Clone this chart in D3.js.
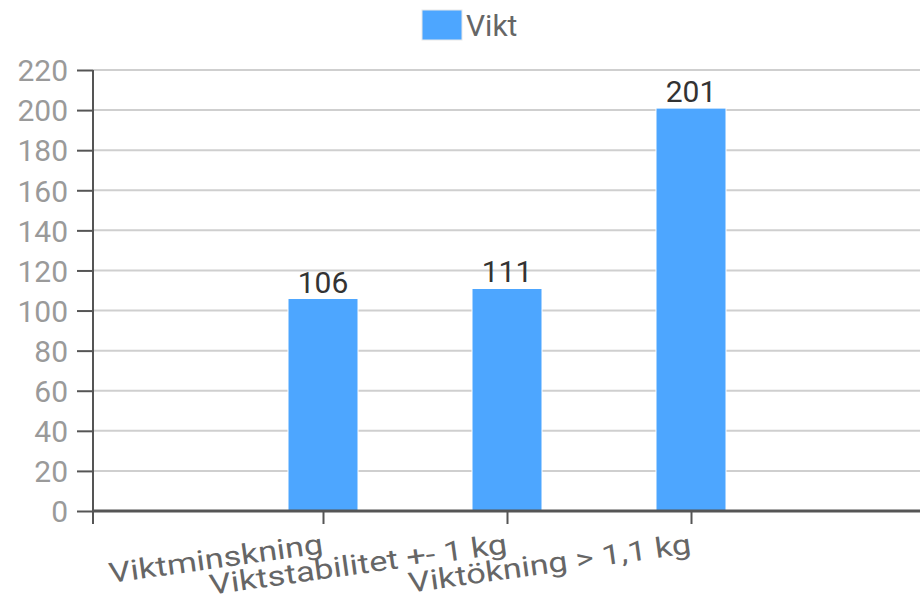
<!DOCTYPE html>
<html>
<head>
<meta charset="utf-8">
<script src="https://cdn.jsdelivr.net/npm/d3@7"></script>
<style>
  html, body { margin: 0; padding: 0; background: #fff; }
  svg { display: block; font-family: Roboto, "Noto Sans", sans-serif; }
</style>
</head>
<body>
<svg id="chart" width="920" height="600"></svg>
<script>
// Weight change groups and counts
const categories = ["Viktminskning", "Viktstabilitet +- 1 kg", "Viktökning > 1,1 kg"];
const values = [106, 111, 201];
const seriesName = "Vikt";
const yTicks = [0, 20, 40, 60, 80, 100, 120, 140, 160, 180, 200, 220];

const svg = d3.select("#chart");
const barColor = "#4da6ff";
const fontSize = 30;

const x = d3.scalePoint().domain(categories).range([93, 921]).padding(1.25);
const y = d3.scaleLinear().domain([0, 220]).range([511, 70]);
const barWidth = 70;

// Horizontal grid lines
svg.append("g")
  .selectAll("line")
  .data(yTicks)
  .join("line")
  .attr("x1", 93).attr("x2", 920)
  .attr("y1", d => y(d)).attr("y2", d => y(d))
  .attr("stroke", "#cfcfcf")
  .attr("stroke-width", 2);

// Bars
svg.append("g")
  .selectAll("rect")
  .data(values)
  .join("rect")
  .attr("x", (d, i) => x(categories[i]) - barWidth / 2)
  .attr("width", barWidth)
  .attr("y", d => y(d))
  .attr("height", d => y(0) - y(d))
  .attr("fill", barColor)
  .attr("stroke", "#fff")
  .attr("stroke-width", 1);

// Value labels above bars
svg.append("g")
  .selectAll("text")
  .data(values)
  .join("text")
  .attr("x", (d, i) => x(categories[i]))
  .attr("y", d => y(d) - 6)
  .attr("text-anchor", "middle")
  .attr("font-size", fontSize)
  .attr("fill", "#333")
  .text(d => d);

// Y axis
const yAxis = svg.append("g")
  .attr("transform", "translate(93,0)")
  .call(d3.axisLeft(y).tickValues(yTicks).tickSize(16).tickSizeOuter(0).tickPadding(9));
yAxis.select(".domain").attr("stroke", "#555").attr("stroke-width", 2)
  .attr("d", `M0,${y(220)}V${y(0) + 13}`);
yAxis.selectAll(".tick line").attr("stroke", "#555").attr("stroke-width", 2);
yAxis.selectAll(".tick text")
  .attr("font-size", fontSize)
  .attr("font-family", "Roboto, sans-serif")
  .attr("fill", "#9a9a9a")
  .attr("dy", "0.36em");

// X axis
const xAxis = svg.append("g")
  .attr("transform", `translate(0,${y(0)})`)
  .call(d3.axisBottom(x).tickSize(13).tickSizeOuter(0).tickFormat(""));
xAxis.select(".domain").attr("stroke", "#555").attr("stroke-width", 3)
  .attr("d", "M93,0H920");
xAxis.selectAll(".tick line").attr("stroke", "#555").attr("stroke-width", 2);

// Tilted, slightly widened category labels, anchored at the tick end
svg.append("g")
  .selectAll("text")
  .data(categories)
  .join("text")
  .attr("transform", d => `translate(${x(d) + 1},${y(0) + 42}) rotate(-8) scale(1.14,0.93)`)
  .attr("text-anchor", "end")
  .attr("font-size", fontSize)
  .attr("fill", "#666")
  .text(d => d);

// Legend
const legend = svg.append("g").attr("transform", "translate(422,10)");
legend.append("rect")
  .attr("width", 40).attr("height", 30)
  .attr("fill", barColor)
  .attr("stroke", "#e8e8e8").attr("stroke-width", 1);
legend.append("text")
  .attr("x", 44).attr("y", 26)
  .attr("font-size", fontSize)
  .attr("fill", "#666")
  .text(seriesName);
</script>
</body>
</html>
